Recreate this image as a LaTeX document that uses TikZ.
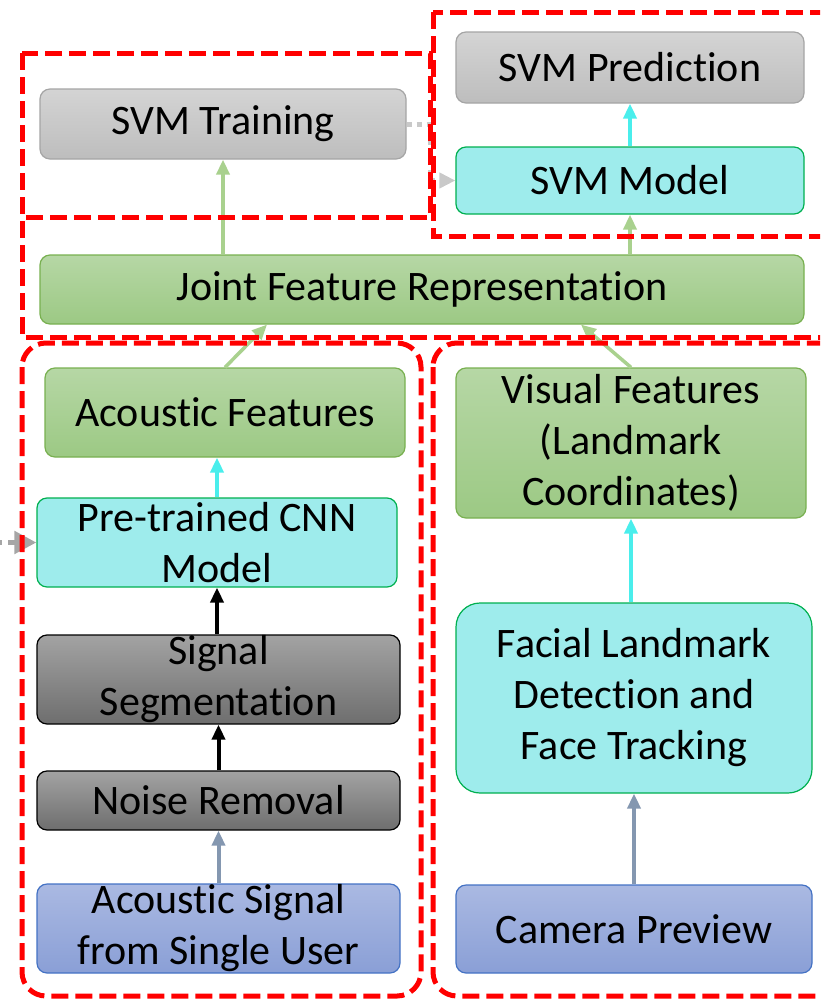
\documentclass[tikz,border=0pt]{standalone}
\usepackage{fontspec}
\setmainfont{Carlito}[Ligatures=NoCommon]
\usetikzlibrary{arrows.meta}

\definecolor{grayA}{HTML}{D4D4D4}
\definecolor{grayB}{HTML}{BDBDBD}
\definecolor{grayline}{HTML}{A5A5A5}
\definecolor{darkA}{HTML}{A3A3A3}
\definecolor{darkB}{HTML}{6E6E6E}
\definecolor{greenA}{HTML}{B6D7A5}
\definecolor{greenB}{HTML}{9CC984}
\definecolor{greenline}{HTML}{78B050}
\definecolor{cyanfill}{HTML}{9EECEC}
\definecolor{cyanline}{HTML}{00B050}
\definecolor{blueA}{HTML}{AAB9E2}
\definecolor{blueB}{HTML}{8A9FD6}
\definecolor{blueline}{HTML}{4472C4}
\definecolor{arrgreen}{HTML}{A9D18E}
\definecolor{arrcyan}{HTML}{4AEEEC}
\definecolor{arrsteel}{HTML}{8497B0}
\definecolor{dotgray}{HTML}{C9C9C9}
\definecolor{feedgray}{HTML}{A6A6A6}

\begin{document}
\begin{tikzpicture}[
    x=0.5pt, y=-0.5pt,
    >={Triangle[width=6.5pt,length=7.5pt]},
    font=\fontsize{21pt}{25.5pt}\selectfont,
    dims/.style 2 args={minimum width=#1, minimum height=#2},
    base/.style={rectangle, rounded corners=5pt, align=center, inner sep=0pt, line width=0.6pt},
    graybox/.style={base, draw=grayline, top color=grayA, bottom color=grayB},
    darkbox/.style={base, draw=black, top color=darkA, bottom color=darkB},
    greenbox/.style={base, draw=greenline, top color=greenA, bottom color=greenB},
    cyanbox/.style={base, draw=cyanline, fill=cyanfill},
    bluebox/.style={base, draw=blueline, top color=blueA, bottom color=blueB},
    flow/.style={->, line width=1.75pt},
    redbox/.style={draw=red, line width=2.5pt, dash pattern=on 8.5pt off 3.5pt}
  ]
  \useasboundingbox (0,0) rectangle (820,1001);
  \clip (0,0) rectangle (820,1001);

  % SVM 部分
  \node[graybox, dims={174pt}{35.5pt}] (pred)  at (630,67.5)  {SVM Prediction};
  \node[graybox, dims={183pt}{35pt}]   (train) at (223,124)   {SVM Training};
  \node[cyanbox, dims={174pt}{33.5pt}] (model) at (630,180.5) {SVM Model};
  \node[greenbox, dims={382pt}{34.5pt}] (joint) at (422,289.5) {Joint Feature Representation};

  % 声学分支
  \node[greenbox, dims={180pt}{44.5pt}] (acf)   at (225,412.5) {Acoustic Features};
  \node[cyanbox, dims={180pt}{44.5pt}]  (cnn)   at (217,542.5) {Pre-trained CNN\\Model};
  \node[darkbox, dims={181.5pt}{44.5pt}] (seg)  at (218.5,679.5) {Signal\\Segmentation};
  \node[darkbox, dims={181.5pt}{29.5pt}] (noise) at (218.5,800.5) {Noise Removal};
  \node[bluebox, dims={181.5pt}{44.5pt}] (sig)  at (218.5,928.5) {Acoustic Signal\\from Single User};

  % 视觉分支
  \node[greenbox, dims={175pt}{75pt}] (vis)  at (631,443) {Visual Features\\(Landmark\\Coordinates)};
  \node[cyanbox, rounded corners=12pt, dims={178pt}{95pt}] (face) at (634,698) {Facial Landmark\\Detection and\\Face Tracking};
  \node[bluebox, dims={178pt}{44pt}] (cam)  at (634,929) {Camera Preview};

  % 箭头
  \draw[flow, arrgreen] (joint.north -| train.south) -- (train.south);
  \draw[flow, arrgreen] (joint.north -| model.south) -- (model.south);
  \draw[flow, arrcyan, line width=2pt] (model) -- (pred);
  \draw[flow, arrgreen] (acf.north) -- ([xshift=21pt]acf.north |- joint.south);
  \draw[flow, arrgreen] (vis.north) -- ([xshift=-25pt]vis.north |- joint.south);
  \draw[flow, arrcyan, line width=2pt] (cnn.north) -- (cnn.north |- acf.south);
  \draw[flow, black, line width=2pt] (seg.north -| cnn.south) -- (cnn.south);
  \draw[flow, black, line width=2pt] (noise) -- (seg);
  \draw[flow, arrsteel, line width=2pt] (sig) -- (noise);
  \draw[flow, arrcyan, line width=2pt] (face.north -| vis.south) -- (vis.south);
  \draw[flow, arrsteel, line width=2pt] (cam.north -| face.south) -- (face.south);

  % 虚线连接
  \draw[-{Triangle[width=7.5pt,length=8pt]}, dotgray, line width=2.5pt, dash pattern=on 2.5pt off 2.5pt]
    (train.east) -- ++(12pt,0) |- (model.west);
  \coordinate (feed) at (-20,542.5);
  \draw[-{Triangle[width=11pt,length=11pt]}, feedgray, line width=2.5pt, dash pattern=on 4pt off 3pt]
    (feed) -- (cnn.west);

  % 红色虚线框
  \draw[redbox] (22,53) rectangle (430,217);
  \draw[redbox] (433,12) rectangle (850,236);
  \draw[redbox] (22,53) -- (22,337) -- (850,337);
  \draw[redbox, rounded corners=12pt] (22,343) rectangle (421,996);
  \draw[redbox, rounded corners=12pt] (433,343) rectangle (843,996);

\end{tikzpicture}
\end{document}
